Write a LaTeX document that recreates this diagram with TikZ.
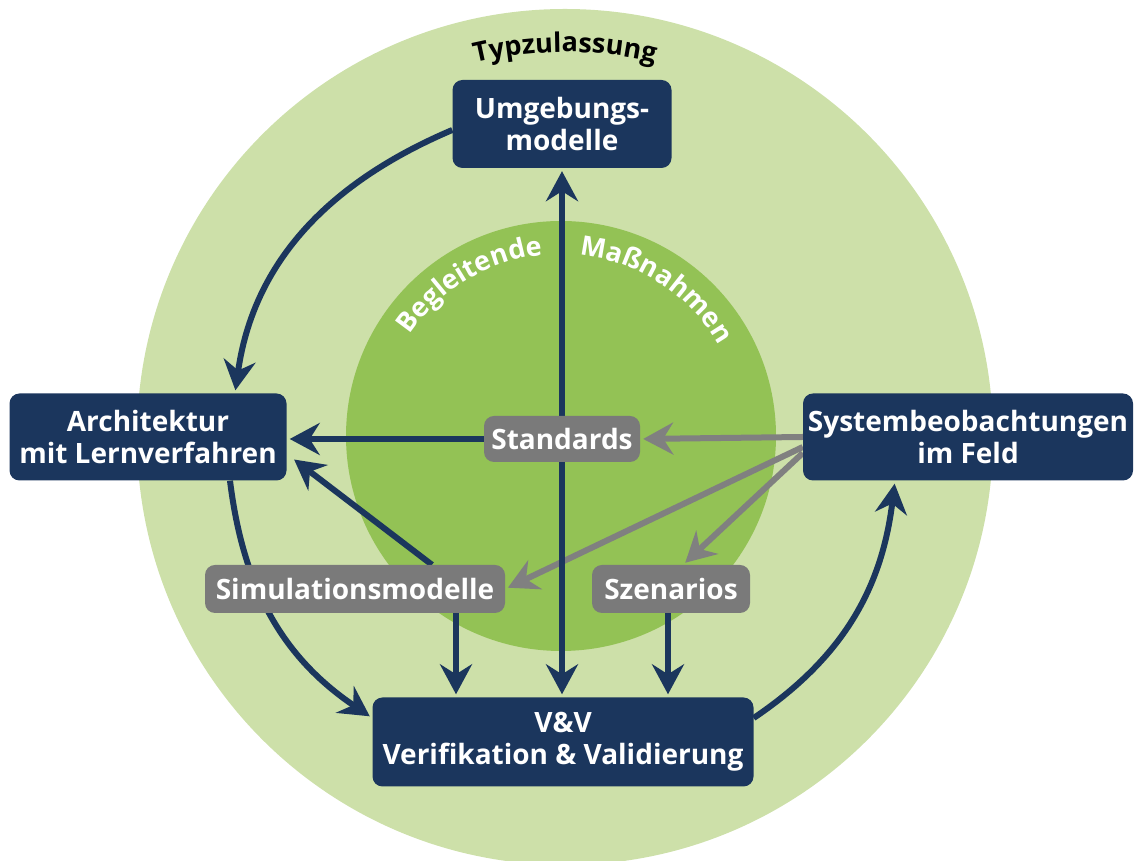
\documentclass[tikz,border=0pt]{standalone}
\usepackage{fontspec}
\setmainfont{Open Sans}
\usetikzlibrary{arrows.meta,decorations.text,calc}
\definecolor{navy}{RGB}{27,54,93}
\definecolor{boxgray}{RGB}{122,122,122}
\definecolor{arrowgray}{RGB}{128,128,128}
\definecolor{outergreen}{RGB}{205,224,169}
\definecolor{innergreen}{RGB}{147,194,85}
\newcommand\boxfont{\fontsize{28}{32}\selectfont\bfseries}
\newcommand\arcfont{\fontsize{27}{27}\selectfont\bfseries}
\pgfdeclarelayer{background}
\pgfdeclarelayer{lines}
\pgfsetlayers{background,lines,main}
\tikzset{
	mainbox/.style = {
		shape=rectangle,
		rounded corners=10pt,
		fill=navy,
		text=white,
		align=center,
		inner sep=0pt,
		font=\boxfont
	},
	subbox/.style = {
		mainbox,
		fill=boxgray
	},
	navyarrow/.style = {
		draw=navy,
		line width=6pt,
		-{Stealth[length=30pt,width=32pt,inset=10pt]},
		shorten >=3pt
	},
	grayarrow/.style = {
		navyarrow,
		draw=arrowgray
	}
}

\begin{document}
\begin{tikzpicture}[x=1pt,y=1pt]
	\useasboundingbox (0,0) rectangle (1138,861);
	% boxes
	\node[mainbox, minimum width=219pt, minimum height=88pt] (umg) at (562,737) {Umgebungs-\\modelle};
	\node[mainbox, minimum width=277pt, minimum height=87pt] (arch) at (148,424) {Architektur\\mit Lernverfahren};
	\node[mainbox, minimum width=330pt, minimum height=87pt] (sys) at (968,424) {Systembeobachtungen\\im Feld};
	\node[mainbox, minimum width=381pt, minimum height=89pt] (vv) at (563,119) {V\&V\\Verifikation \& Validierung};
	\node[subbox, minimum width=156pt, minimum height=46pt] (std) at (562,422) {Standards};
	\node[subbox, minimum width=300pt, minimum height=48pt] (sim) at (355,272) {Simulationsmodelle};
	\node[subbox, minimum width=158pt, minimum height=48pt] (szen) at (671,272) {Szenarios};

	% circles and their labels
	\begin{pgfonlayer}{background}
		\fill[outergreen] (565,424) circle[radius=428];
		\fill[innergreen] (561,425) circle[radius=215];
		\path[decorate, decoration={text along path, text align=center,
			text={|\arcfont|Typzulassung}}]
			(565,424) ++(130:385) arc[start angle=130, end angle=50, radius=385];
		\path[decorate, decoration={text along path, text align=center, text color=white,
			text={|\arcfont|Begleitende}}]
			(561,425) ++(158:182) arc[start angle=158, end angle=84, radius=182];
		\path[decorate, decoration={text along path, text align=center, text color=white,
			text={|\arcfont|Maßnahmen}}]
			(561,425) ++(94:182) arc[start angle=94, end angle=20, radius=182];
	\end{pgfonlayer}

	% connectors
	\begin{pgfonlayer}{lines}
		\draw[grayarrow] (sys.west) -- (std.east);
		\draw[grayarrow] ([yshift=-10pt]sys.west) -- (sim.east);
		\draw[grayarrow] ([yshift=-16pt]sys.west) -- ([xshift=12pt]szen.north);
		\draw[navyarrow, shorten <=3pt, {Stealth[length=30pt,width=32pt,inset=10pt]}-{Stealth[length=30pt,width=32pt,inset=10pt]}] (vv.north -| umg.south) -- (umg.south);
		\draw[navyarrow] (std.west) -- (std.west -| arch.east);
		\draw[navyarrow] ([xshift=77pt]sim.north) -- ([xshift=5pt,yshift=23pt]arch.south east);
		\draw[navyarrow] ([xshift=101pt]sim.south) -- ([xshift=101pt]sim.south |- vv.north);
		\draw[navyarrow] ([xshift=-3pt]szen.south) -- ([xshift=-3pt]szen.south |- vv.north);
		\draw[navyarrow] ([yshift=-6pt]umg.west) to[out=203, in=82] ([xshift=87pt]arch.north);
		\draw[navyarrow] ([xshift=82pt]arch.south) to[out=277, in=146] ([yshift=24pt]vv.west);
		\draw[navyarrow] ([yshift=24pt]vv.east) to[out=34, in=263] ([xshift=-73pt]sys.south);
	\end{pgfonlayer}
\end{tikzpicture}
\end{document}
